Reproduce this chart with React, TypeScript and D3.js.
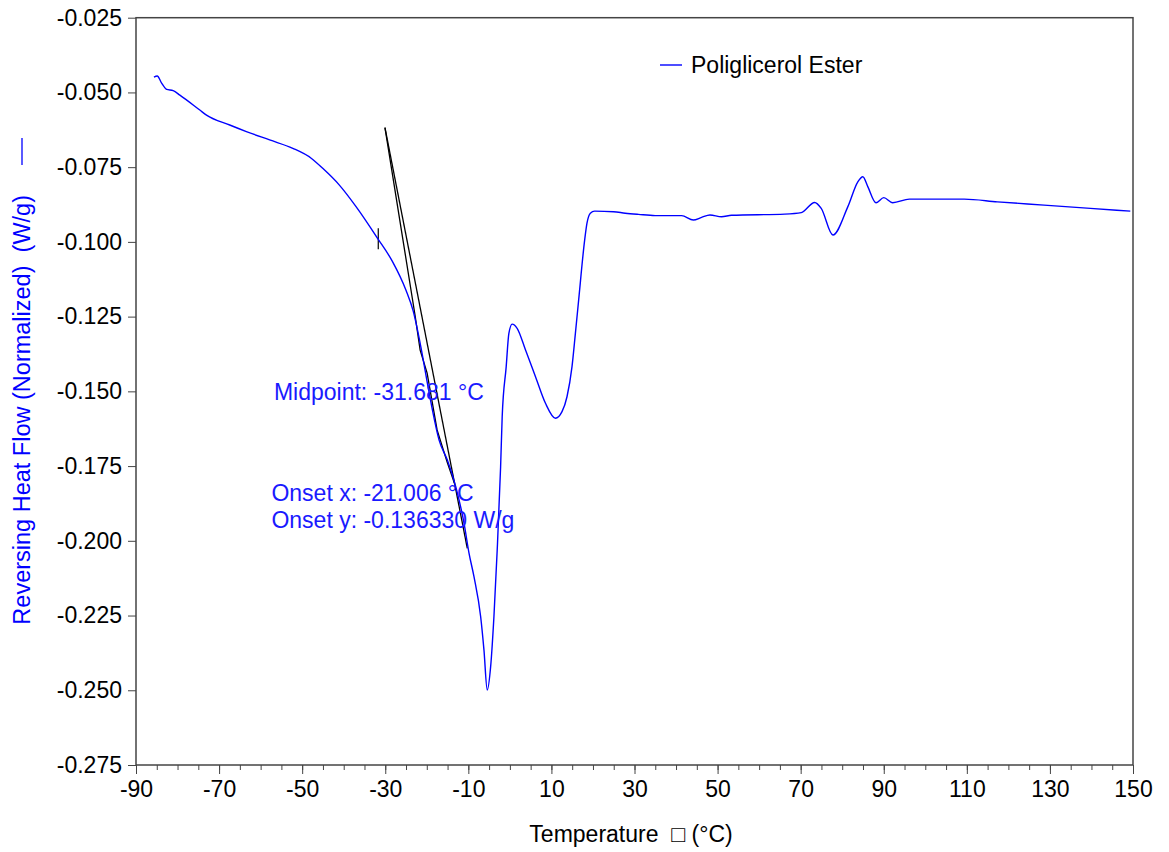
import React, { useEffect, useRef } from 'react';
import * as d3 from 'd3';

// Reversing heat flow curve (temperature °C, W/g)
const temps = [
  -85.68, -84.89, -83.83, -82.63, -81.05, -79.44, -74.64, -73.03, -67.44, -63.43,
  -57.84, -52.25, -47.83, -45.05, -41.04, -37.03, -31.85, -28.25, -25.03, -23.28,
  -21.43, -19.85, -18.65, -17.04, -15.05, -13.03, -11.04, -9.84, -8.64, -7.03,
  -6.24, -5.45, -4.63, -3.84, -3.05, -2.23, -1.85, -0.89, -0.24, 0.55,
  1.75, 3.77, 6.17, 8.57, 10.97, 12.55, 13.75, 14.95, 15.77, 16.56,
  18.0, 18.55, 19.37, 20.4, 24.96, 27.77, 30.96, 34.97, 41.35, 44.16,
  46.15, 48.17, 50.95, 53.35, 66.17, 70.15, 73.37, 74.95, 77.76, 81.36,
  83.76, 84.96, 86.16, 88.15, 90.0, 92.16, 96.17, 109.37, 117.36, 128.57,
  139.75, 149.35
];
const heatFlow = [
  -0.0449, -0.0445, -0.0469, -0.0490, -0.0494, -0.0509, -0.0559, -0.0576, -0.0609, -0.0631,
  -0.0659, -0.0687, -0.0720, -0.0754, -0.0810, -0.0882, -0.0988, -0.1066, -0.1161, -0.1231,
  -0.1351, -0.1473, -0.1562, -0.1663, -0.1730, -0.1819, -0.1941, -0.2041, -0.2120, -0.2254,
  -0.2365, -0.2499, -0.2421, -0.2254, -0.2031, -0.1752, -0.1585, -0.1418, -0.1306, -0.1275,
  -0.1289, -0.1362, -0.1451, -0.1540, -0.1590, -0.1568, -0.1518, -0.1418, -0.1306, -0.1194,
  -0.0994, -0.0938, -0.0904, -0.0897, -0.0899, -0.0904, -0.0908, -0.0912, -0.0912, -0.0927,
  -0.0918, -0.0910, -0.0916, -0.0911, -0.0907, -0.0902, -0.0868, -0.0888, -0.0977, -0.0882,
  -0.0799, -0.0782, -0.0815, -0.0869, -0.0852, -0.0869, -0.0857, -0.0857, -0.0866, -0.0877,
  -0.0888, -0.0897
];

// onset tangent construction
const tangentA = [[-30.07, -0.0618], [-10.25, -0.2025]];
const tangentB = [
  [-30.07, -0.0618], [-22.8, -0.1248], [-21.6, -0.1362], [-19.92, -0.1439],
  [-17.52, -0.1629], [-15.12, -0.1736], [-13.32, -0.1808]
];
const midpointMark = [[-31.681, -0.0954], [-31.681, -0.1025]];

const annotations = [
  { t: -56.8, v: -0.1528, text: 'Midpoint: -31.681 °C' },
  { t: -57.4, v: -0.1868, text: 'Onset x: -21.006 °C' },
  { t: -57.4, v: -0.1958, text: 'Onset y: -0.136330 W/g' }
];

const xTicks = [-90, -70, -50, -30, -10, 10, 30, 50, 70, 90, 110, 130, 150];
const yTicks = [-0.025, -0.05, -0.075, -0.1, -0.125, -0.15, -0.175, -0.2, -0.225, -0.25, -0.275];

const seriesName = 'Poliglicerol Ester';
const FONT = 'Arial, "Liberation Sans", sans-serif';

export default function App() {
  const svgRef = useRef<SVGSVGElement>(null);

  useEffect(() => {
    const width = 1169;
    const height = 852;
    const margin = { left: 136, right: 36, top: 17.7, bottom: 87 };

    const svg = d3.select(svgRef.current)
      .attr('width', width)
      .attr('height', height);
    svg.selectAll('*').remove();

    const x = d3.scaleLinear().domain([-90, 150]).range([margin.left, width - margin.right]);
    const y = d3.scaleLinear().domain([-0.275, -0.025]).range([height - margin.bottom, margin.top]);

    const x0 = margin.left, x1 = width - margin.right;
    const y0 = margin.top, y1 = height - margin.bottom;

    // frame
    svg.append('rect')
      .attr('x', x0).attr('y', y0)
      .attr('width', x1 - x0).attr('height', y1 - y0)
      .attr('fill', 'none').attr('stroke', '#444').attr('stroke-width', 1.5);

    // x axis: minor then major ticks
    svg.append('g').attr('transform', `translate(0,${y1})`)
      .call(d3.axisBottom(x).tickValues(d3.range(-90, 151, 5)).tickSize(5).tickFormat(() => ''))
      .call(g => g.select('.domain').remove())
      .call(g => g.selectAll('line').attr('stroke', '#444'));
    svg.append('g').attr('transform', `translate(0,${y1})`)
      .call(d3.axisBottom(x).tickValues(xTicks).tickSize(9).tickPadding(7).tickFormat(d => String(d)))
      .call(g => g.select('.domain').remove())
      .call(g => g.selectAll('line').attr('stroke', '#444'))
      .call(g => g.selectAll('text').attr('font-family', FONT).attr('font-size', 23).attr('fill', '#000'));

    // y axis
    svg.append('g').attr('transform', `translate(${x0},0)`)
      .call(d3.axisLeft(y).tickValues(yTicks).tickSize(8).tickPadding(6).tickFormat(d => (+d).toFixed(3)))
      .call(g => g.select('.domain').remove())
      .call(g => g.selectAll('line').attr('stroke', '#444'))
      .call(g => g.selectAll('text').attr('font-family', FONT).attr('font-size', 23).attr('fill', '#000'));

    // axis titles
    svg.append('text')
      .attr('x', 631).attr('y', 842)
      .attr('text-anchor', 'middle')
      .style('white-space', 'pre')
      .attr('font-family', FONT).attr('font-size', 23).attr('fill', '#000')
      .text('Temperature  \u25A1 (°C)');

    const yLabel = svg.append('g').attr('transform', `translate(30,408) rotate(-90)`);
    yLabel.append('text')
      .attr('x', 213)
      .attr('text-anchor', 'end')
      .style('white-space', 'pre')
      .attr('font-family', FONT).attr('font-size', 23.5).attr('fill', '#0000ff')
      .text('Reversing Heat Flow (Normalized)  (W/g)');
    yLabel.append('line')
      .attr('x1', 243).attr('x2', 270).attr('y1', -8).attr('y2', -8)
      .attr('stroke', '#0000ff').attr('stroke-width', 1.3);

    const line = d3.line<number[]>()
      .x(d => x(d[0]))
      .y(d => y(d[1]));

    // tangent construction
    svg.append('path').attr('d', line(tangentA)).attr('fill', 'none').attr('stroke', '#000').attr('stroke-width', 1.3);
    svg.append('path').attr('d', line(tangentB)).attr('fill', 'none').attr('stroke', '#000').attr('stroke-width', 1.3);
    svg.append('path').attr('d', line(midpointMark)).attr('fill', 'none').attr('stroke', '#000').attr('stroke-width', 1.2);

    // curve
    const pts = temps.map((t, i) => [t, heatFlow[i]]);
    svg.append('path')
      .attr('d', d3.line<number[]>().x(d => x(d[0])).y(d => y(d[1])).curve(d3.curveMonotoneX)(pts))
      .attr('fill', 'none')
      .attr('stroke', '#0000ff')
      .attr('stroke-width', 1.4);

    // annotations
    svg.append('g').selectAll('text')
      .data(annotations)
      .join('text')
      .attr('x', d => x(d.t))
      .attr('y', d => y(d.v))
      .attr('font-family', FONT).attr('font-size', 23).attr('fill', '#1a1aff')
      .text(d => d.text);

    // legend
    svg.append('line')
      .attr('x1', 660).attr('x2', 682).attr('y1', 65).attr('y2', 65)
      .attr('stroke', '#0000ff').attr('stroke-width', 1.4);
    svg.append('text')
      .attr('x', 691).attr('y', 73)
      .attr('font-family', FONT).attr('font-size', 23).attr('fill', '#000')
      .text(seriesName);

    return () => { svg.selectAll('*').remove(); };
  }, []);

  return (
    <div style={{ position: 'absolute', left: 0, top: 0 }}>
      <svg ref={svgRef} style={{ display: 'block', background: '#fff' }}></svg>
    </div>
  );
}
